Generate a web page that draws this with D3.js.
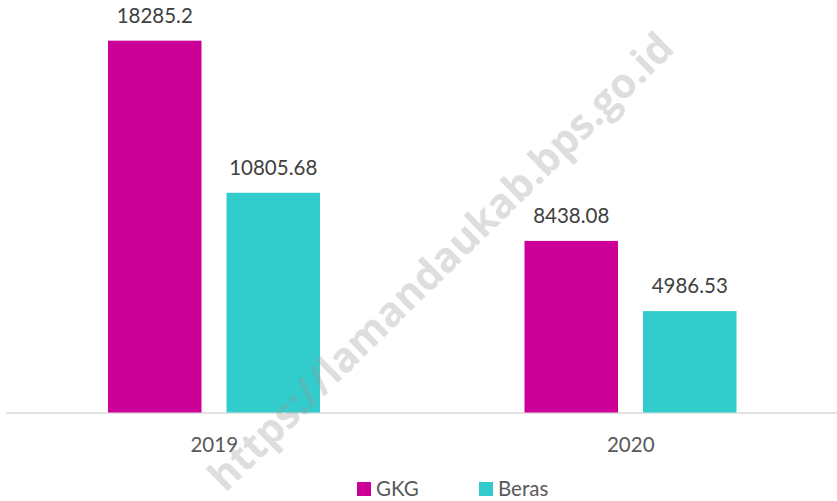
<!DOCTYPE html>
<html>
<head>
<meta charset="utf-8">
<script src="https://cdn.jsdelivr.net/npm/d3@7"></script>
<style>
    body { margin: 0; background: #fff; }
    #chart { width: 837px; height: 501px; }
    text { font-family: Lato, "Open Sans", sans-serif; }
</style>
</head>
<body>
<div id="chart"></div>
<script>
var years = ["2019", "2020"];
var series = ["GKG", "Beras"];
var gkg = [18285.2, 8438.08];
var beras = [10805.68, 4986.53];
var labels = [["18285.2", "10805.68"], ["8438.08", "4986.53"]];

var colors = { "GKG": "#cc0099", "Beras": "#33cccc" };

var width = 837;
var height = 501;

var svg = d3.select("#chart")
    .append("svg")
    .attr("width", width)
    .attr("height", height);

var data = years.map(function(y, i) {
    return {
        year: y,
        values: [
            { key: "GKG", value: gkg[i], label: labels[i][0] },
            { key: "Beras", value: beras[i], label: labels[i][1] }
        ]
    };
});

var x0 = d3.scaleBand()
    .domain(years)
    .range([6, 839]);

var x1 = d3.scaleBand()
    .domain(series)
    .range([102, 314])
    .paddingInner(0.211);

var y = d3.scaleLinear()
    .domain([0, 20000])
    .range([412.5, 5.8]);

// baseline
svg.append("line")
    .attr("x1", 6)
    .attr("x2", 837)
    .attr("y1", y(0) + 0.5)
    .attr("y2", y(0) + 0.5)
    .attr("stroke", "#d9d9d9")
    .attr("stroke-width", 1.5);

var groups = svg.selectAll("g.year")
    .data(data)
    .enter()
    .append("g")
        .attr("class", "year")
        .attr("transform", function(d) { return "translate(" + x0(d.year) + ",0)"; });

groups.selectAll("rect")
    .data(function(d) { return d.values; })
    .enter()
    .append("rect")
        .attr("x", function(d) { return x1(d.key); })
        .attr("y", function(d) { return y(d.value); })
        .attr("width", x1.bandwidth())
        .attr("height", function(d) { return y(0) - y(d.value); })
        .attr("fill", function(d) { return colors[d.key]; });

groups.selectAll("text.lbl")
    .data(function(d) { return d.values; })
    .enter()
    .append("text")
        .attr("class", "lbl")
        .attr("x", function(d) { return x1(d.key) + x1.bandwidth() / 2; })
        .attr("y", function(d) { return y(d.value) - 18; })
        .attr("text-anchor", "middle")
        .style("font-size", "20.5px")
        .attr("fill", "#404040")
        .text(function(d) { return d.label; });

// category labels
svg.selectAll("text.cat")
    .data(years)
    .enter()
    .append("text")
        .attr("class", "cat")
        .attr("x", function(d) { return x0(d) + x0.bandwidth() / 2; })
        .attr("y", 452)
        .attr("text-anchor", "middle")
        .style("font-size", "20.5px")
        .attr("fill", "#595959")
        .text(function(d) { return d; });

// legend
var legendX = d3.scaleOrdinal()
    .domain(series)
    .range([357, 479]);

var legend = svg.selectAll("g.legend")
    .data(series)
    .enter()
    .append("g")
        .attr("class", "legend")
        .attr("transform", function(d) { return "translate(" + legendX(d) + ",482)"; });

legend.append("rect")
    .attr("width", 14)
    .attr("height", 14)
    .attr("fill", function(d) { return colors[d]; });

legend.append("text")
    .attr("x", 19)
    .attr("y", 14)
    .style("font-size", "20.5px")
    .attr("fill", "#595959")
    .text(function(d) { return d; });

// watermark, semi-transparent over everything
svg.append("text")
    .attr("transform", "translate(443,264) rotate(-44.5)")
    .attr("text-anchor", "middle")
    .attr("dominant-baseline", "middle")
    .style("font-family", "'Open Sans', sans-serif")
    .style("font-weight", "bold")
    .style("font-size", "41px")
    .attr("fill", "#9a9a9a")
    .attr("opacity", 0.32)
    .text("https://lamandaukab.bps.go.id");
</script>
</body>
</html>
